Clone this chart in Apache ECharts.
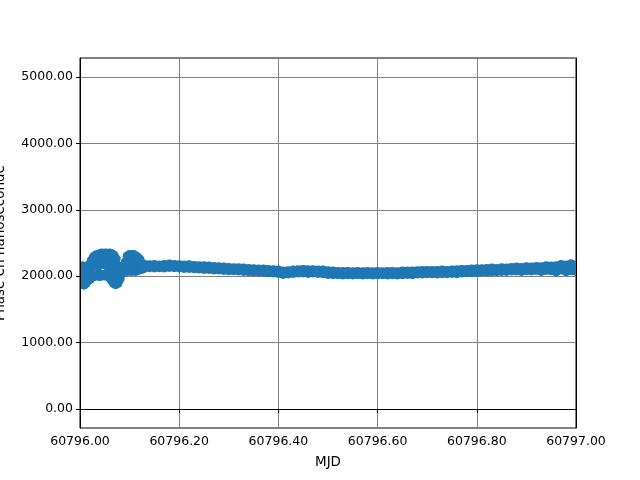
<!DOCTYPE html>
<html>
<head>
<meta charset="utf-8">
<script src="https://cdn.jsdelivr.net/npm/echarts@6/dist/echarts.min.js"></script>
<style>html,body{margin:0;padding:0;background:#fff}#c{width:640px;height:480px}</style>
</head>
<body>
<div id="c"></div>
<script>
const mjd = [
60796.000,60796.000,60796.000,60796.004,60796.004,60796.004,60796.008,60796.008,60796.008,
60796.012,60796.012,60796.012,60796.016,60796.016,60796.016,60796.020,60796.020,60796.020,
60796.024,60796.024,60796.024,60796.028,60796.028,60796.028,60796.032,60796.032,60796.032,
60796.036,60796.036,60796.036,60796.040,60796.040,60796.040,60796.044,60796.044,60796.044,
60796.048,60796.048,60796.048,60796.052,60796.052,60796.052,60796.056,60796.056,60796.056,
60796.060,60796.060,60796.060,60796.064,60796.064,60796.064,60796.068,60796.068,60796.068,
60796.072,60796.072,60796.072,60796.076,60796.076,60796.076,60796.080,60796.080,60796.080,
60796.084,60796.084,60796.084,60796.088,60796.088,60796.088,60796.092,60796.092,60796.092,
60796.096,60796.096,60796.096,60796.100,60796.100,60796.100,60796.104,60796.104,60796.104,
60796.108,60796.108,60796.108,60796.112,60796.112,60796.112,60796.116,60796.116,60796.116,
60796.120,60796.120,60796.120,60796.124,60796.124,60796.124,60796.128,60796.128,60796.128,
60796.13,60796.13,60796.14,60796.14,60796.15,60796.15,60796.16,60796.16,60796.17,60796.17,
60796.18,60796.18,60796.19,60796.19,60796.20,60796.20,60796.21,60796.21,60796.22,60796.22,
60796.23,60796.23,60796.24,60796.24,60796.25,60796.25,60796.26,60796.26,60796.27,60796.27,
60796.28,60796.28,60796.29,60796.29,60796.30,60796.30,60796.31,60796.31,60796.32,60796.32,
60796.33,60796.33,60796.34,60796.34,60796.35,60796.35,60796.36,60796.36,60796.37,60796.37,
60796.38,60796.38,60796.39,60796.39,60796.40,60796.40,60796.41,60796.41,60796.42,60796.42,
60796.43,60796.43,60796.44,60796.44,60796.45,60796.45,60796.46,60796.46,60796.47,60796.47,
60796.48,60796.48,60796.49,60796.49,60796.50,60796.50,60796.51,60796.51,60796.52,60796.52,
60796.53,60796.53,60796.54,60796.54,60796.55,60796.55,60796.56,60796.56,60796.57,60796.57,
60796.58,60796.58,60796.59,60796.59,60796.60,60796.60,60796.61,60796.61,60796.62,60796.62,
60796.63,60796.63,60796.64,60796.64,60796.65,60796.65,60796.66,60796.66,60796.67,60796.67,
60796.68,60796.68,60796.69,60796.69,60796.70,60796.70,60796.71,60796.71,60796.72,60796.72,
60796.73,60796.73,60796.74,60796.74,60796.75,60796.75,60796.76,60796.76,60796.77,60796.77,
60796.78,60796.78,60796.79,60796.79,60796.80,60796.80,60796.81,60796.81,60796.82,60796.82,
60796.83,60796.83,60796.84,60796.84,60796.85,60796.85,60796.86,60796.86,60796.87,60796.87,
60796.88,60796.88,60796.89,60796.89,60796.90,60796.90,60796.91,60796.91,60796.92,60796.92,
60796.93,60796.93,60796.94,60796.94,60796.95,60796.95,60796.96,60796.96,60796.97,60796.97,
60796.98,60796.98,60796.99,60796.99,60797.00,60797.00
];
const phase = [
1880,2000,2120, 1900,2050,2150, 1870,2000,2110,
1900,2040,2140, 1940,2060,2150, 1960,2100,2180,
1990,2150,2240, 2000,2170,2290, 2010,2200,2310,
2020,2150,2320, 2000,2200,2330, 2020,2250,2340,
2010,2180,2330, 2020,2220,2340, 2000,2150,2330,
1980,2200,2340, 1940,2100,2330, 1900,2050,2310,
1880,2000,2260, 1900,2050,2150, 1960,2080,2130,
2040,2100,2130, 2070,2120,2150, 2080,2150,2210,
2080,2200,2300, 2090,2250,2320, 2080,2200,2310,
2090,2180,2320, 2080,2160,2300, 2090,2200,2280,
2100,2150,2250, 2110,2160,2190, 2120,2150,2170,
2130,2170, 2135,2165, 2130,2170, 2135,2160, 2130,2170,
2140,2175, 2135,2170, 2130,2165, 2125,2160, 2125,2165,
2120,2155, 2115,2150, 2110,2150, 2110,2145, 2100,2140,
2100,2135, 2095,2130, 2090,2125, 2090,2120, 2085,2120,
2080,2115, 2075,2110, 2070,2105, 2070,2100, 2065,2100,
2060,2095, 2055,2090, 2050,2085, 2035,2070, 2040,2075,
2050,2085, 2055,2090, 2055,2095, 2050,2090, 2055,2090,
2050,2085, 2045,2085, 2035,2075, 2030,2070, 2030,2065,
2025,2065, 2030,2065, 2025,2060, 2030,2065, 2025,2060,
2030,2065, 2025,2060, 2030,2065, 2030,2060, 2025,2065,
2030,2065, 2025,2060, 2030,2070, 2035,2070, 2030,2070,
2040,2075, 2040,2080, 2045,2080, 2045,2080, 2040,2080,
2045,2085, 2045,2080, 2050,2085, 2045,2090, 2055,2095,
2060,2095, 2060,2100, 2065,2105, 2070,2105, 2070,2110,
2075,2115, 2075,2110, 2080,2120, 2080,2115, 2085,2125,
2085,2130, 2080,2125, 2090,2135, 2085,2130, 2095,2140,
2080,2135, 2095,2150, 2090,2145, 2070,2150, 2100,2170,
2075,2160, 2090,2180, 2080,2160
];
const yTicks = [0, 1000, 2000, 3000, 4000, 5000];

const points = mjd.map((t, i) => [t, phase[i]]);
const font = 'DejaVu Sans';
const Y_MIN = -286, Y_MAX = 5286;
const chart = echarts.init(document.getElementById('c'), null, {renderer: 'canvas'});
chart.setOption({
  animation: false,
  backgroundColor: '#fff',
  grid: {left: 80, right: 64, top: 58, bottom: 52, containLabel: false, outerBoundsMode: 'none',
         show: true, borderColor: '#000', borderWidth: 1, backgroundColor: 'transparent'},
  xAxis: {
    type: 'value', min: 60796, max: 60797, interval: 0.2,
    name: 'MJD', nameLocation: 'middle', nameGap: 27,
    nameTextStyle: {fontFamily: font, fontSize: 13.5, color: '#000'},
    axisLine: {show: true, lineStyle: {color: '#000', width: 1}},
    axisTick: {show: true, inside: false, length: 4, lineStyle: {color: '#000'}},
    axisLabel: {fontFamily: font, fontSize: 12.5, color: '#000', margin: 7, formatter: v => v.toFixed(2)},
    splitLine: {show: true, lineStyle: {color: '#808080', width: 1}}
  },
  yAxis: [{
    type: 'value', min: Y_MIN, max: Y_MAX, position: 'left', offset: 0,
    name: 'Phase en nanoseconde', nameLocation: 'middle', nameGap: 73, nameRotate: 90,
    nameTextStyle: {fontFamily: font, fontSize: 13.5, color: '#000'},
    axisLine: {show: false},
    axisTick: {show: false},
    axisLabel: {fontFamily: font, fontSize: 12.5, color: '#000', margin: 7, customValues: yTicks, formatter: v => v.toFixed(2)},
    splitLine: {show: true, customValues: yTicks, lineStyle: {color: '#808080', width: 1}}
  }, {
    type: 'value', min: Y_MIN, max: Y_MAX, position: 'left', offset: 0, z: 5,
    axisLine: {show: true, onZero: false, lineStyle: {color: '#000', width: 1}},
    axisTick: {show: true, length: 4, customValues: yTicks, lineStyle: {color: '#000'}},
    axisLabel: {show: false},
    splitLine: {show: false}
  }, {
    type: 'value', min: Y_MIN, max: Y_MAX, position: 'right', offset: 0, z: 5,
    axisLine: {show: true, onZero: false, lineStyle: {color: '#000', width: 1}},
    axisTick: {show: false},
    axisLabel: {show: false},
    splitLine: {show: false}
  }],
  series: [{
    type: 'custom',
    data: points,
    encode: {x: 0, y: 1},
    clip: true,
    renderItem: (params, api) => {
      const p = api.coord([api.value(0), api.value(1)]);
      return {type: 'circle', shape: {cx: p[0], cy: p[1], r: 5}, style: {fill: '#1f77b4'}};
    },
    emphasis: {disabled: true},
    tooltip: {show: false}
  }]
});
</script>
</body>
</html>
